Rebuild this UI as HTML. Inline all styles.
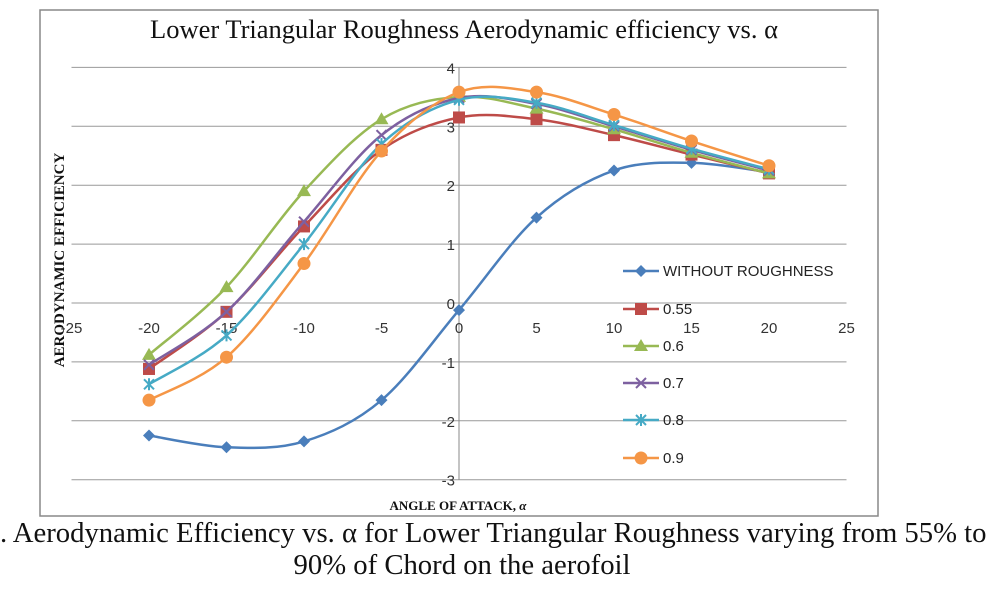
<!DOCTYPE html>
<html><head><meta charset="utf-8"><style>
body{margin:0;background:#fff;width:1000px;height:600px;overflow:hidden;font-family:"Liberation Sans",sans-serif}
.cap{position:absolute;left:0;width:1000px;font-family:"Liberation Serif",serif;font-size:28.7px;line-height:31px;color:#111;white-space:nowrap}
</style></head><body>
<svg id="c" width="1000" height="520" style="position:absolute;left:0;top:0">
<rect x="40" y="10" width="838" height="506" fill="#fff" stroke="#888" stroke-width="1.5"/>
<text x="464" y="38" text-anchor="middle" font-family="Liberation Serif" font-size="26.5" fill="#111">Lower Triangular Roughness Aerodynamic efficiency vs. α</text>
<text transform="translate(64,260) rotate(-90)" text-anchor="middle" font-family="Liberation Serif" font-weight="bold" font-size="15" fill="#111">AERODYNAMIC EFFICIENCY</text>
<text x="458" y="510" text-anchor="middle" font-family="Liberation Serif" font-weight="bold" font-size="13" fill="#111">ANGLE OF ATTACK, <tspan font-style="italic">α</tspan></text>
<g id="grid"></g><g id="series"></g><g id="legend"></g>
</svg>
<div class="cap" style="top:518px;left:0px">. Aerodynamic Efficiency vs. α for Lower Triangular Roughness varying from 55% to</div>
<div class="cap" style="top:550px;text-align:center;left:-38px">90% of Chord on the aerofoil</div>
<script>
const xCats=[-20,-15,-10,-5,0,5,10,15,20];
const xTicks=[-25,-20,-15,-10,-5,0,5,10,15,20,25];
const yTicks=[-3,-2,-1,0,1,2,3,4];
const seriesNames=["WITHOUT ROUGHNESS","0.55","0.6","0.7","0.8","0.9"];
const sWithout=[-2.25,-2.45,-2.35,-1.65,-0.12,1.45,2.25,2.38,2.22];
const s055=[-1.12,-0.15,1.3,2.6,3.15,3.12,2.85,2.52,2.2];
const s06=[-0.88,0.27,1.9,3.12,3.5,3.3,2.95,2.55,2.2];
const s07=[-1.05,-0.15,1.38,2.85,3.48,3.38,3.0,2.6,2.25];
const s08=[-1.38,-0.55,1.0,2.7,3.45,3.4,3.02,2.62,2.27];
const s09=[-1.65,-0.92,0.67,2.58,3.58,3.58,3.2,2.75,2.33];
const allSeries=[sWithout,s055,s06,s07,s08,s09];
const colors=["#4A7EBB","#BE4B48","#98B954","#7D60A0","#46AAC5","#F59646"];
const markers=["diamond","square","triangle","x","star","circle"];
const NS="http://www.w3.org/2000/svg";
const X=v=>459+(v)*15.5;
const Y=v=>303-v*58.9;
function mk(t,a,p){const e=document.createElementNS(NS,t);for(const k in a)e.setAttribute(k,a[k]);p.appendChild(e);return e;}
const grid=document.getElementById('grid');
yTicks.forEach(t=>{
 const l=mk('line',{x1:X(-25),x2:X(25),y1:Y(t),y2:Y(t),stroke:'#999','stroke-width':1},grid);
 
 
 const tx=mk('text',{x:X(0)-4,y:Y(t)+6,'text-anchor':'end','font-size':15,fill:'#333'},grid);tx.textContent=t;
 
 
});
const ax=mk('line',{x1:X(0),x2:X(0),y1:Y(4),y2:Y(-3),stroke:'#888'},grid);


xTicks.forEach(t=>{
 const tx=mk('text',{x:X(t),y:Y(0)+30,'text-anchor':'middle','font-size':15,fill:'#333'},grid);tx.textContent=t;
 
 
});
function path(pts){let d=`M${pts[0][0]},${pts[0][1]}`;for(let i=0;i<pts.length-1;i++){const p0=pts[Math.max(0,i-1)],p1=pts[i],p2=pts[i+1],p3=pts[Math.min(pts.length-1,i+2)];const t=6;d+=` C${p1[0]+(p2[0]-p0[0])/t},${p1[1]+(p2[1]-p0[1])/t} ${p2[0]-(p3[0]-p1[0])/t},${p2[1]-(p3[1]-p1[1])/t} ${p2[0]},${p2[1]}`;}return d;}
function marker(type,x,y,c,p){let e;
 if(type=='diamond')e=mk('polygon',{points:`${x},${y-6} ${x+6},${y} ${x},${y+6} ${x-6},${y}`,fill:c},p);
 else if(type=='square')e=mk('rect',{x:x-6,y:y-6,width:12,height:12,fill:c},p);
 else if(type=='triangle')e=mk('polygon',{points:`${x},${y-7} ${x+7},${y+5} ${x-7},${y+5}`,fill:c},p);
 else if(type=='circle')e=mk('circle',{cx:x,cy:y,r:6.5,fill:c},p);
 else if(type=='x')e=mk('path',{d:`M${x-5},${y-5}L${x+5},${y+5}M${x-5},${y+5}L${x+5},${y-5}`,stroke:c,'stroke-width':2},p);
 else e=mk('path',{d:`M${x-5},${y-5}L${x+5},${y+5}M${x-5},${y+5}L${x+5},${y-5}M${x},${y-6}L${x},${y+6}`,stroke:c,'stroke-width':2},p);
 return e;}
const sg=document.getElementById('series');
allSeries.forEach((s,i)=>{
 const g=mk('g',{},sg);
 
 
 const pts=s.map((v,j)=>[X(xCats[j]),Y(v)]);
 mk('path',{d:path(pts),fill:'none',stroke:colors[i],'stroke-width':2.5},g);
 pts.forEach(p=>{const m=marker(markers[i],p[0],p[1],colors[i],g);
  
  });
});
const lg=document.getElementById('legend');
const ly=[271,309,346,383,420,458];
seriesNames.forEach((n,i)=>{
 const g=mk('g',{},lg);
 
 
 mk('line',{x1:623,x2:659,y1:ly[i],y2:ly[i],stroke:colors[i],'stroke-width':2.5},g);
 marker(markers[i],641,ly[i],colors[i],g);
 const t=mk('text',{x:663,y:ly[i]+5,'font-size':15,fill:'#222'},g);t.textContent=n;
});
</script>
</body></html>
